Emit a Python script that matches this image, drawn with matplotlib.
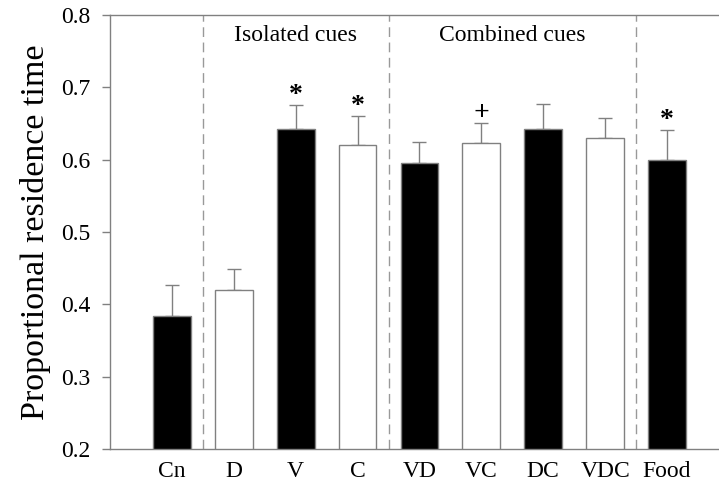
import matplotlib.pyplot as plt
import numpy as np

plt.rcParams['font.family'] = ['Liberation Serif', 'DejaVu Serif']

labels = ['Cn', 'D', 'V', 'C', 'VD', 'VC', 'DC', 'VDC', 'Food']
means = [0.384, 0.420, 0.642, 0.620, 0.596, 0.623, 0.643, 0.630, 0.599]
errs = [0.042, 0.029, 0.033, 0.040, 0.028, 0.028, 0.034, 0.028, 0.042]
fills = ['black', 'white', 'black', 'white', 'black', 'white', 'black', 'white', 'black']
marks = ['', '', '*', '*', '', '+', '', '', '*']
groups = ['Isolated cues', 'Combined cues']

GRAY = '#808080'

x = np.arange(len(labels))

fig = plt.figure(figsize=(7.19, 4.82), dpi=100)
ax = fig.add_axes([0.153, 0.0685, 0.847, 0.9005])

ax.bar(x, np.array(means) - 0.2, bottom=0.2, width=0.61, color=fills,
       edgecolor=GRAY, linewidth=1.0, zorder=3)
ax.errorbar(x, means, yerr=[np.zeros(len(errs)), errs], fmt='none',
            ecolor=GRAY, elinewidth=1.0, capsize=5, capthick=1.0, zorder=2)

# significance marks above the error bars
for xi, m, e, s in zip(x, means, errs, marks):
    if s:
        ax.text(xi, m + e - 0.004, s, ha='center', va='bottom',
                fontsize=20, fontweight='bold')

# group separators
for xs in [0.5, 3.5, 7.5]:
    ax.axvline(xs, color='#999999', linestyle=(0, (7, 4)), linewidth=1.0, zorder=1)

ax.text(2, 0.786, groups[0], ha='center', va='top', fontsize=17)
ax.text(5.5, 0.786, groups[1], ha='center', va='top', fontsize=17)

ax.set_ylim(0.2, 0.8)
ax.set_xlim(-1.0, 8.84)
ax.set_yticks(np.arange(0.2, 0.81, 0.1))
ax.set_yticklabels(['%.1f' % v for v in np.arange(0.2, 0.81, 0.1)])
ax.set_xticks(x)
ax.set_xticklabels(labels)
ax.tick_params(axis='y', direction='out', length=6, width=1, color=GRAY,
               labelsize=17, pad=8)
ax.tick_params(axis='x', length=0, labelsize=17, pad=9)
ax.spines['right'].set_visible(False)
for sp in ['left', 'bottom', 'top']:
    ax.spines[sp].set_color(GRAY)
    ax.spines[sp].set_linewidth(1.0)

ax.set_ylabel('Proportional residence time', fontsize=24.5, labelpad=7)

fig.savefig('out.png', dpi=100)
